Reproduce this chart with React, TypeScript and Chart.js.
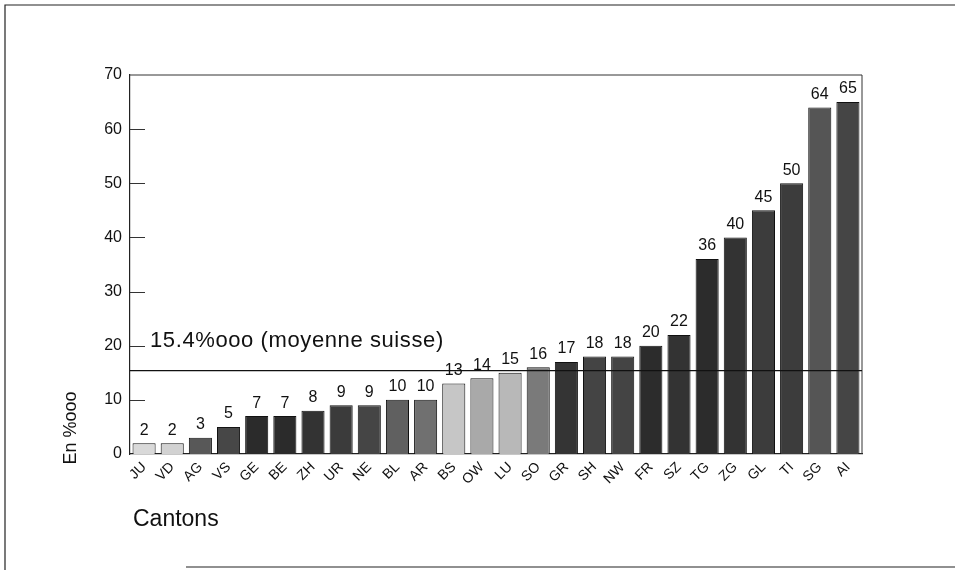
import React, { useEffect, useRef } from "react";
import { Chart, registerables } from "chart.js";

Chart.register(...registerables);

const categories = ["JU","VD","AG","VS","GE","BE","ZH","UR","NE","BL","AR","BS","OW","LU","SO","GR","SH","NW","FR","SZ","TG","ZG","GL","TI","SG","AI"];
const values = [2,2,3,5,7,7,8,9,9,10,10,13,14,15,16,17,18,18,20,22,36,40,45,50,64,65];
const barColors = ["#d9d9d9","#d2d2d2","#585858","#474747","#2b2b2b","#2b2b2b","#333333","#3b3b3b","#454545","#606060","#707070","#c6c6c6","#a9a9a9","#b8b8b8","#7a7a7a","#343434","#444444","#444444","#2c2c2c","#333333","#2c2c2c","#333333","#3c3c3c","#3c3c3c","#555555","#454545"];
const average = 15.4;
const averageLabel = "15.4%ooo (moyenne suisse)";
const yTitle = "En %ooo";
const xTitle = "Cantons";
const yMin = 0;
const yMax = 70;
const yStep = 10;

const FONT = "'Liberation Sans', Arial, sans-serif";

export default function App() {
  const ref = useRef<HTMLCanvasElement | null>(null);
  useEffect(() => {
    const canvas = ref.current!;
    const overlay = {
      id: "overlay",
      afterDatasetsDraw(chart: any) {
        const ctx = chart.ctx;
        const ca = chart.chartArea;
        const y = chart.scales.y;
        ctx.save();
        // frame around page
        ctx.strokeStyle = "#222";
        ctx.lineWidth = 1.2;
        ctx.beginPath();
        ctx.moveTo(5, 570);
        ctx.lineTo(5, 5);
        ctx.lineTo(955, 5);
        ctx.moveTo(186, 567);
        ctx.lineTo(955, 567);
        ctx.stroke();
        // plot box top/right
        ctx.strokeStyle = "#333";
        ctx.lineWidth = 1;
        ctx.beginPath();
        ctx.moveTo(ca.left, ca.top);
        ctx.lineTo(ca.right, ca.top);
        ctx.lineTo(ca.right, ca.bottom);
        ctx.stroke();
        // inward ticks
        ctx.beginPath();
        for (let v = yMin + yStep; v < yMax; v += yStep) {
          const py = Math.round(y.getPixelForValue(v)) + 0.5;
          ctx.moveTo(ca.left, py);
          ctx.lineTo(ca.left + 15, py);
        }
        ctx.stroke();
        // average line
        const ay = y.getPixelForValue(average);
        ctx.strokeStyle = "#111";
        ctx.lineWidth = 1.3;
        ctx.beginPath();
        ctx.moveTo(ca.left, ay);
        ctx.lineTo(ca.right, ay);
        ctx.stroke();
        ctx.fillStyle = "#111";
        ctx.font = `22px ${FONT}`;
        ctx.textAlign = "left";
        ctx.textBaseline = "alphabetic";
        (ctx as any).letterSpacing = "0.6px";
        ctx.fillText(averageLabel, ca.left + 20, y.getPixelForValue(20) + 1);
        (ctx as any).letterSpacing = "0px";
        // value labels
        const meta = chart.getDatasetMeta(0);
        ctx.font = `16px ${FONT}`;
        ctx.textAlign = "center";
        ctx.textBaseline = "bottom";
        meta.data.forEach((bar: any, i: number) => {
          ctx.fillText(String(values[i]), bar.x, bar.y - 5);
        });
        // y title
        ctx.save();
        ctx.translate(71, 428);
        ctx.rotate(-Math.PI / 2);
        ctx.font = `18px ${FONT}`;
        ctx.textAlign = "center";
        ctx.textBaseline = "middle";
        ctx.fillText(yTitle, 0, 0);
        ctx.restore();
        // x title
        ctx.font = `23px ${FONT}`;
        ctx.textAlign = "left";
        ctx.textBaseline = "middle";
        ctx.fillText(xTitle, 133, 520);
        ctx.restore();
      },
    };
    const chart = new Chart(canvas, {
      type: "bar",
      data: {
        labels: categories,
        datasets: [
          {
            data: values,
            backgroundColor: barColors,
            borderColor: "#111",
            borderWidth: 1,
            categoryPercentage: 1,
            barPercentage: 0.82,
          },
        ],
      },
      options: {
        animation: false,
        responsive: false,
        devicePixelRatio: 1,
        layout: { padding: { left: 80, right: 93, top: 75, bottom: 76 } },
        plugins: { legend: { display: false }, tooltip: { enabled: false } },
        scales: {
          x: {
            grid: { display: false, drawTicks: false },
            border: { display: true, color: "#222", width: 1.2 },
            ticks: {
              minRotation: 45,
              maxRotation: 45,
              autoSkip: false,
              padding: 5,
              color: "#111",
              font: { size: 14, family: FONT },
            },
            afterFit: (s: any) => { s.height = 40; },
          },
          y: {
            min: yMin,
            max: yMax,
            grid: { display: false, drawTicks: false },
            border: { display: true, color: "#222", width: 1.2 },
            ticks: {
              stepSize: yStep,
              padding: 8,
              color: "#111",
              font: { size: 16, family: FONT },
            },
            afterFit: (s: any) => { s.width = 50; },
          },
        },
      },
      plugins: [overlay],
    });
    return () => chart.destroy();
  }, []);
  return (
    <div style={{ position: "absolute", left: 0, top: 0, width: 955, height: 570, background: "#fff" }}>
      <canvas ref={ref} width={955} height={570} style={{ display: "block" }} />
    </div>
  );
}
